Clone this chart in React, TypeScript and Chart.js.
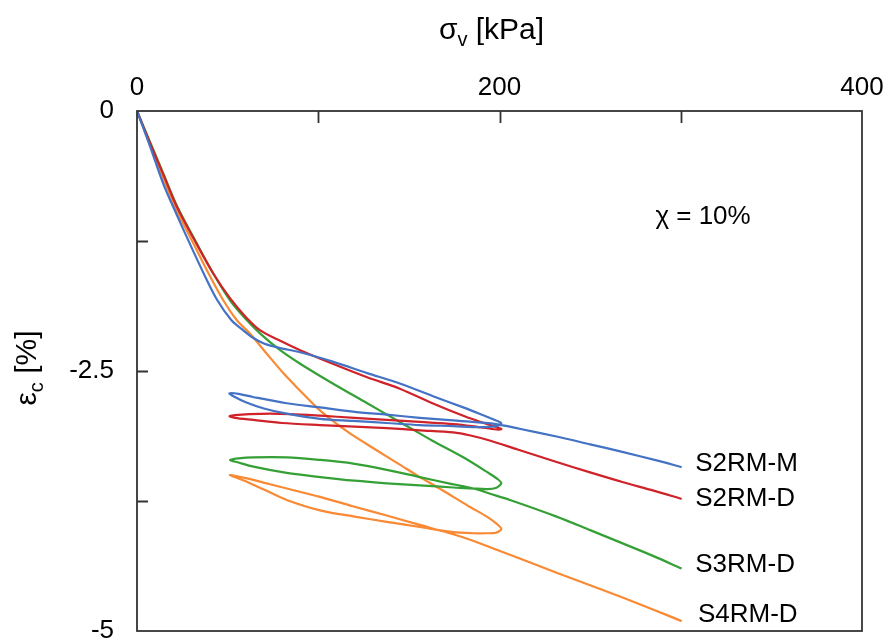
import React, { useEffect, useRef } from 'react';
import { Chart, registerables } from 'chart.js';

Chart.register(...registerables);

// ---------------- data (σv in kPa, εc in %) ----------------
const S2RM_M_SIGMA = [
  0, 7, 14.5, 22, 29.5, 37, 44, 52, 58, 64, 70, 78, 90, 108, 127, 145, 163, 180, 193, 199.5,
  201,
  198, 189, 174.5, 156, 137.8, 119, 101, 82.6, 70, 60, 54, 51,
  56, 64, 82.6, 101, 119, 137.8, 156, 178, 198, 211, 231.5, 250, 268.3, 286.7, 300.5,
];
const S2RM_M_EPS = [
  0, -0.33, -0.7, -1.0, -1.29, -1.57, -1.81, -2.01, -2.1, -2.18, -2.235, -2.275, -2.32, -2.41, -2.52, -2.62, -2.74, -2.85, -2.94, -2.985,
  -3.005,
  -3.03, -3.04, -3.03, -3.02, -3.0, -2.98, -2.96, -2.91, -2.86, -2.8, -2.75, -2.715,
  -2.72, -2.75, -2.81, -2.85, -2.89, -2.92, -2.95, -2.98, -3.01, -3.055, -3.13, -3.205, -3.28, -3.36, -3.425,
];

const S2RM_D_SIGMA = [
  0, 7, 14.5, 22, 32.9, 42, 51.3, 60, 68, 79, 90, 108, 127, 145, 163, 180, 193, 199.5,
  201,
  197, 185, 174.5, 156, 137.8, 120, 101, 85, 73.4, 62, 54, 51,
  54, 64.2, 80, 101, 120, 137.8, 156, 174.5, 184, 195, 210, 231.5, 250, 268.3, 285, 300.5,
];
const S2RM_D_EPS = [
  0, -0.3, -0.61, -0.92, -1.28, -1.56, -1.8, -1.98, -2.11, -2.21, -2.3, -2.43, -2.56, -2.67, -2.81, -2.93, -3.01, -3.045,
  -3.06,
  -3.06, -3.03, -3.01, -2.99, -2.97, -2.95, -2.93, -2.915, -2.91, -2.915, -2.925, -2.935,
  -2.95, -2.97, -3.0, -3.02, -3.035, -3.05, -3.07, -3.09, -3.12, -3.17, -3.255, -3.375, -3.475, -3.57, -3.65, -3.73,
];

const S3RM_D_SIGMA = [
  0, 7, 14.5, 22, 32.9, 42, 51.3, 60, 68, 79, 90, 108, 127, 145, 163, 180, 193, 199,
  201,
  198, 192.9, 174.5, 156, 137.8, 120, 101, 82.6, 64.2, 56, 51.3,
  56, 64, 82.6, 101, 119.3, 137.8, 156, 172, 185.6, 194.8, 205.8, 231.5, 250, 268.3, 285, 300.5,
];
const S3RM_D_EPS = [
  0, -0.29, -0.6, -0.91, -1.27, -1.56, -1.82, -2.0, -2.14, -2.3, -2.43, -2.62, -2.81, -2.99, -3.17, -3.33, -3.47, -3.54,
  -3.58,
  -3.625, -3.635, -3.62, -3.6, -3.58, -3.555, -3.52, -3.48, -3.42, -3.38, -3.355,
  -3.34, -3.33, -3.33, -3.355, -3.39, -3.45, -3.52, -3.58, -3.63, -3.68, -3.74, -3.9, -4.03, -4.16, -4.28, -4.4,
];

const S4RM_D_SIGMA = [
  0, 7, 14.5, 22, 31, 40, 47.6, 55, 62.3, 70, 80.7, 90, 99.1, 108, 117.5, 132, 145, 156, 165, 174.5, 184, 193, 198.5,
  201,
  198, 192.9, 185, 174.5, 156, 137.8, 120, 101, 82.6, 70, 60, 54, 51.3,
  60, 82.6, 101, 119, 137.8, 156, 174.5, 185, 194.8, 213, 231.5, 250, 268.3, 285, 300.5,
];
const S4RM_D_EPS = [
  0, -0.31, -0.65, -0.96, -1.27, -1.58, -1.82, -2.01, -2.14, -2.3, -2.52, -2.69, -2.85, -2.98, -3.1, -3.26, -3.4, -3.52, -3.61, -3.71, -3.81, -3.9, -3.97,
  -4.02,
  -4.055, -4.06, -4.06, -4.05, -4.0, -3.95, -3.9, -3.84, -3.74, -3.64, -3.56, -3.52, -3.5,
  -3.53, -3.63, -3.71, -3.8, -3.89, -3.98, -4.07, -4.13, -4.195, -4.315, -4.44, -4.56, -4.68, -4.795, -4.905,
];

const SERIES_NAMES = ['S2RM-M', 'S2RM-D', 'S3RM-D', 'S4RM-D'];
const SERIES_COLORS = ['#4472C4', '#CF2229', '#35A035', '#F98933'];

const X_TICKS = [0, 100, 200, 300, 400];
const X_TICK_LABELS = [0, 200, 400];
const Y_TICKS = [0, -1.25, -2.5, -3.75, -5];
const Y_TICK_LABELS = [0, -2.5, -5];

const CHI_TEXT = 'χ = 10%';

// annotation placement (data coordinates)
const CHI_POS = { x: 286, y: -1.02 };
const NAME_POS = [
  { x: 308, y: -3.39 },
  { x: 308, y: -3.725 },
  { x: 308, y: -4.36 },
  { x: 309.5, y: -4.84 },
];

const FONT = '"Liberation Sans", Arial, sans-serif';
const AXIS_COLOR = '#333333';

function toPoints(xs: number[], ys: number[]) {
  return xs.map((x, i) => ({ x, y: ys[i] }));
}

function zeroPadding(s: any) {
  s.paddingLeft = 0;
  s.paddingRight = 0;
  s.paddingTop = 0;
  s.paddingBottom = 0;
}

const overlayPlugin = {
  id: 'overlay',
  afterDraw(chart: any) {
    const { ctx, chartArea: a, scales } = chart;
    const xs = scales.x;
    const ys = scales.y;
    ctx.save();
    // frame
    ctx.strokeStyle = AXIS_COLOR;
    ctx.lineWidth = 1.8;
    ctx.strokeRect(a.left, a.top, a.right - a.left, a.bottom - a.top);
    // inward tick marks
    ctx.beginPath();
    X_TICKS.forEach((v) => {
      if (v === X_TICKS[0] || v === X_TICKS[X_TICKS.length - 1]) return;
      const px = Math.round(xs.getPixelForValue(v)) + 0.5;
      ctx.moveTo(px, a.top);
      ctx.lineTo(px, a.top + 12);
    });
    Y_TICKS.forEach((v) => {
      if (v === Y_TICKS[0] || v === Y_TICKS[Y_TICKS.length - 1]) return;
      const py = Math.round(ys.getPixelForValue(v)) + 0.5;
      ctx.moveTo(a.left, py);
      ctx.lineTo(a.left + 11, py);
    });
    ctx.stroke();

    ctx.fillStyle = '#000';
    // x-axis title: σv [kPa]
    ctx.textBaseline = 'alphabetic';
    ctx.textAlign = 'left';
    const big = `30px ${FONT}`;
    const small = `20px ${FONT}`;
    ctx.font = big;
    const wSigma = ctx.measureText('σ').width;
    const wRest = ctx.measureText(' [kPa]').width;
    ctx.font = small;
    const wV = ctx.measureText('v').width;
    const total = wSigma + wV + wRest;
    const x0 = (a.left + a.right) / 2 - 8 - total / 2;
    const yb = 39;
    ctx.font = big;
    ctx.fillText('σ', x0, yb);
    ctx.font = small;
    ctx.fillText('v', x0 + wSigma, yb + 7);
    ctx.font = big;
    ctx.fillText(' [kPa]', x0 + wSigma + wV, yb);

    // y-axis title: εc [%]
    ctx.save();
    ctx.translate(36, 368);
    ctx.rotate(-Math.PI / 2);
    ctx.font = big;
    const wEps = ctx.measureText('ε').width;
    const wPct = ctx.measureText(' [%]').width;
    ctx.font = small;
    const wC = ctx.measureText('c').width;
    const tot2 = wEps + wC + wPct;
    const sx = -tot2 / 2;
    ctx.font = big;
    ctx.fillText('ε', sx, 0);
    ctx.font = small;
    ctx.fillText('c', sx + wEps, 7);
    ctx.font = big;
    ctx.fillText(' [%]', sx + wEps + wC, 0);
    ctx.restore();

    // annotations
    ctx.font = `26px ${FONT}`;
    ctx.textBaseline = 'middle';
    ctx.textAlign = 'left';
    ctx.fillText(CHI_TEXT, xs.getPixelForValue(CHI_POS.x), ys.getPixelForValue(CHI_POS.y));
    SERIES_NAMES.forEach((name, i) => {
      const p = NAME_POS[i];
      ctx.fillText(name, xs.getPixelForValue(p.x), ys.getPixelForValue(p.y));
    });
    ctx.restore();
  },
};

export default function App() {
  const canvasRef = useRef<HTMLCanvasElement | null>(null);

  useEffect(() => {
    if (!canvasRef.current) return;
    const series = [
      toPoints(S2RM_M_SIGMA, S2RM_M_EPS),
      toPoints(S2RM_D_SIGMA, S2RM_D_EPS),
      toPoints(S3RM_D_SIGMA, S3RM_D_EPS),
      toPoints(S4RM_D_SIGMA, S4RM_D_EPS),
    ];
    const chart = new Chart(canvasRef.current, {
      type: 'scatter',
      data: {
        datasets: series.map((pts, i) => ({
          label: SERIES_NAMES[i],
          data: pts,
          showLine: true,
          borderColor: SERIES_COLORS[i],
          backgroundColor: SERIES_COLORS[i],
          borderWidth: 2.2,
          pointRadius: 0,
          pointHoverRadius: 0,
          tension: 0.3,
          fill: false,
        })),
      },
      options: {
        animation: false,
        responsive: true,
        maintainAspectRatio: false,
        layout: { padding: { left: 0, right: 22, top: 0, bottom: 13 } },
        plugins: {
          legend: { display: false },
          tooltip: { enabled: false },
        },
        scales: {
          x: {
            type: 'linear',
            position: 'top',
            min: 0,
            max: 400,
            grid: { display: false },
            border: { display: false },
            afterFit: (s: any) => {
              s.height = 111;
              zeroPadding(s);
            },
            ticks: {
              stepSize: 100,
              maxRotation: 0,
              autoSkip: false,
              padding: 0,
              color: '#000',
              font: { family: FONT, size: 26 },
              callback: (v: any) => (X_TICK_LABELS.includes(Number(v)) ? String(v) : ''),
            },
          },
          y: {
            type: 'linear',
            position: 'left',
            min: -5,
            max: 0,
            grid: { display: false },
            border: { display: false },
            afterFit: (s: any) => {
              s.width = 137;
              zeroPadding(s);
            },
            afterBuildTicks: (s: any) => {
              s.ticks = Y_TICKS.map((v) => ({ value: v }));
            },
            ticks: {
              padding: 15,
              color: '#000',
              font: { family: FONT, size: 26 },
              callback: (v: any) => (Y_TICK_LABELS.includes(Number(v)) ? String(v) : ''),
            },
          },
        },
      },
      plugins: [overlayPlugin],
    });
    return () => chart.destroy();
  }, []);

  return (
    <div style={{ position: 'absolute', left: 0, top: 0, width: 884, height: 644, background: '#fff' }}>
      <canvas ref={canvasRef} />
    </div>
  );
}
